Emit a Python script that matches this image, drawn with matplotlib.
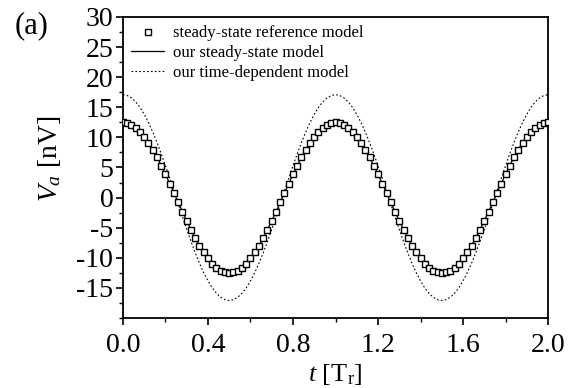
import matplotlib
matplotlib.use("Agg")
import matplotlib.pyplot as plt
from matplotlib.ticker import MultipleLocator

t = [round(0.02 * i, 2) for i in range(101)]

half_ss = [12.5, 12.40, 12.11, 11.62, 10.95, 10.11, 9.11, 7.97, 6.70, 5.32, 3.86, 2.34, 0.78,
           -0.78, -2.34, -3.86, -5.32, -6.70, -7.97, -9.11, -10.11, -10.95, -11.62, -12.11, -12.40]
steady_period = half_ss + [-12.5, -12.40, -12.11, -11.62, -10.95, -10.11, -9.11, -7.97, -6.70,
                           -5.32, -3.86, -2.34, -0.78, 0.78, 2.34, 3.86, 5.32, 6.70, 7.97, 9.11,
                           10.11, 10.95, 11.62, 12.11, 12.40]
steady_ref = steady_period + steady_period + [12.5]
steady_ours = steady_ref

td_period = [17.1, 16.96, 16.56, 15.90, 14.99, 13.83, 12.47, 10.90, 9.16, 7.28, 5.28, 3.20, 1.07,
             -1.07, -3.20, -5.28, -7.28, -9.16, -10.90, -12.47, -13.83, -14.99, -15.90, -16.56, -16.96,
             -17.1, -16.96, -16.56, -15.90, -14.99, -13.83, -12.47, -10.90, -9.16, -7.28, -5.28, -3.20,
             -1.07, 1.07, 3.20, 5.28, 7.28, 9.16, 10.90, 12.47, 13.83, 14.99, 15.90, 16.56, 16.96]
time_dep = td_period + td_period + [17.1]

xticks = [0.0, 0.4, 0.8, 1.2, 1.6, 2.0]
xticklabels = ["0.0", "0.4", "0.8", "1.2", "1.6", "2.0"]
yticks = [-15, -10, -5, 0, 5, 10, 15, 20, 25, 30]

plt.rcParams['font.family'] = ['Liberation Serif', 'DejaVu Serif']
plt.rcParams['mathtext.fontset'] = 'custom'
plt.rcParams['mathtext.rm'] = 'Liberation Serif'
plt.rcParams['mathtext.it'] = 'Liberation Serif:italic'
plt.rcParams['axes.unicode_minus'] = False

fig = plt.figure(figsize=(5.79, 3.88), dpi=100)
ax = fig.add_axes([0.2124, 0.1804, 0.7341, 0.7758])

ax.plot(t, steady_ref, linestyle='none', marker='s', markersize=4.3, markerfacecolor='white',
        markeredgecolor='black', markeredgewidth=1.0, label='steady-state reference model', zorder=3)
ax.plot(t, steady_ours, color='black', linewidth=0.9, label='our steady-state model', zorder=2)
ax.plot(t, time_dep, color='black', linewidth=0.8, linestyle=(0, (1.5, 2)),
        label='our time-dependent model', zorder=2)

ax.set_xlim(0, 2.0)
ax.set_ylim(-20, 30)
ax.set_xticks(xticks)
ax.set_xticklabels(xticklabels)
ax.set_yticks(yticks)
ax.xaxis.set_minor_locator(MultipleLocator(0.2))
ax.yaxis.set_minor_locator(MultipleLocator(2.5))
ax.tick_params(which='major', direction='out', length=5, width=1.2, labelsize=20)
ax.tick_params(axis='x', which='major', pad=6)
ax.tick_params(axis='y', which='major', pad=2)
ax.tick_params(which='minor', direction='out', length=3, width=1.0)
for s in ax.spines.values():
    s.set_linewidth(1.3)

ax.set_xlabel(r'$t$ [T$_\mathrm{r}$]', fontsize=19, labelpad=3)
ax.set_ylabel(r'$V_a$ [nV]', fontsize=20)
ax.yaxis.set_label_coords(-0.14, 0.53)

leg = ax.legend(loc='upper left', frameon=False, fontsize=12, handlelength=2.0,
                handletextpad=0.5, borderaxespad=0.2, labelspacing=0.22,
                bbox_to_anchor=(-0.005, 1.005))

fig.text(0.025, 0.935, '(a)', fontsize=22, ha='left', va='center')

fig.savefig('out.png', dpi=100)
